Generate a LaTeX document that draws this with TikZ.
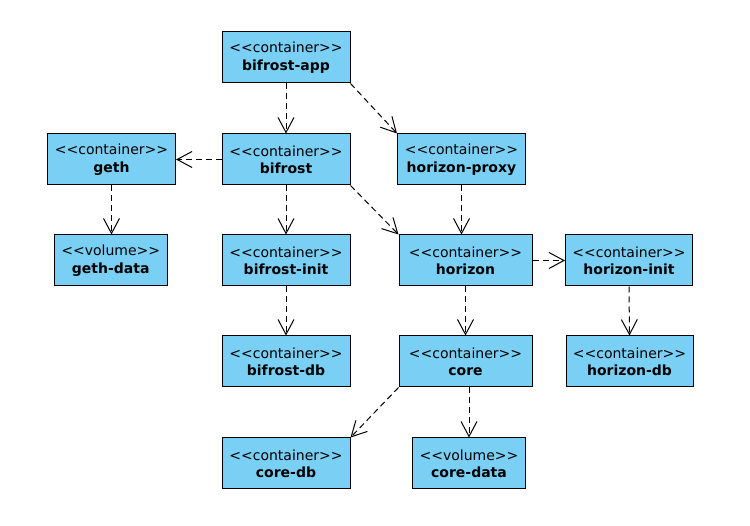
\documentclass[tikz,border=0pt]{standalone}
\usepackage{fontspec}
\setmainfont{DejaVu Sans}
\usepackage{tikz}
\usetikzlibrary{arrows.meta}
\definecolor{boxblue}{RGB}{122,207,245}
\newcommand{\stereo}[2]{<{}<#1>{}>\\\textbf{#2}}

\begin{document}
\begin{tikzpicture}[x=1pt, y=-1pt,
    box/.style={draw, fill=boxblue, line width=1pt, minimum height=51pt, align=center,
      inner sep=0pt, font=\fontsize{14}{17.4}\selectfont},
    dep/.style={line width=1pt, dash pattern=on 6pt off 4pt,
      -{Straight Barb[length=15pt, width=16pt, line width=1pt]}}]
      \useasboundingbox (0, 0) rectangle (750, 526);
      \node[box, minimum width=128pt] (app) at (286, 57.5) {\stereo{container}{bifrost-app}};
      \node[box, minimum width=128pt] (bifrost) at (286, 159.5) {\stereo{container}{bifrost}};
      \node[box, minimum width=128pt] (geth) at (111.5, 159.5) {\stereo{container}{geth}};
      \node[box, minimum width=128pt] (hproxy) at (461.5, 159.5) {\stereo{container}{horizon-proxy}};
      \node[box, minimum width=113pt] (gethdata) at (110.7, 260.5) {\stereo{volume}{geth-data}};
      \node[box, minimum width=128pt] (binit) at (286, 260.5) {\stereo{container}{bifrost-init}};
      \node[box, minimum width=133pt] (horizon) at (465.5, 260.5) {\stereo{container}{horizon}};
      \node[box, minimum width=127pt] (hinit) at (629, 260.5) {\stereo{container}{horizon-init}};
      \node[box, minimum width=128pt] (bdb) at (286, 361.5) {\stereo{container}{bifrost-db}};
      \node[box, minimum width=133pt] (core) at (465.5, 361.5) {\stereo{container}{core}};
      \node[box, minimum width=127pt] (hdb) at (629.5, 361.5) {\stereo{container}{horizon-db}};
      \node[box, minimum width=128pt] (coredb) at (286, 463.5) {\stereo{container}{core-db}};
      \node[box, minimum width=113pt] (coredata) at (469, 463.5) {\stereo{volume}{core-data}};
      \draw[dep] (app.south) -- (bifrost.north);
      \draw[dep] (app.south east) -- (hproxy.north west);
      \draw[dep] (bifrost.west) -- (geth.east);
      \draw[dep] (bifrost.south) -- (binit.north);
      \draw[dep] (bifrost.south east) -- (horizon.north west);
      \draw[dep] (hproxy.south) -- (hproxy.south |- horizon.north);
      \draw[dep] (geth.south) -- (geth.south |- gethdata.north);
      \draw[dep] (binit.south) -- (bdb.north);
      \draw[dep] (horizon.east) -- (hinit.west);
      \draw[dep] (horizon.south) -- (core.north);
      \draw[dep] (hinit.south) -- (hdb.north);
      \draw[dep] (core.south west) -- (coredb.north east);
      \draw[dep] (coredata.north |- core.south) -- (coredata.north);
    \end{tikzpicture}
\end{document}
